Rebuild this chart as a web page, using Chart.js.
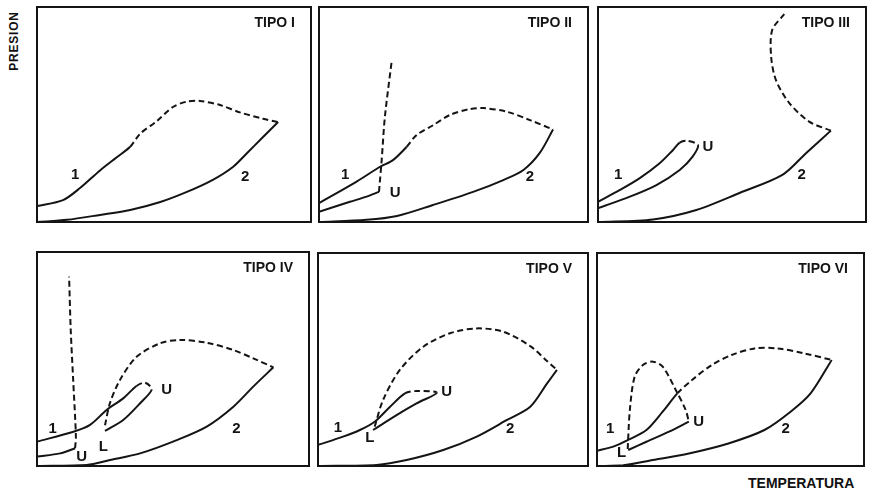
<!DOCTYPE html>
<html>
<head>
<meta charset="utf-8">
<script src="https://cdn.jsdelivr.net/npm/chart.js@4.4.0/dist/chart.umd.min.js"></script>
<style>
    body {
        margin: 0;
        width: 873px;
        height: 490px;
        background: #fff;
        position: relative;
        overflow: hidden;
        font-family: "Liberation Sans", Arial, sans-serif;
        color: #111;
    }
    .panel { position: absolute; }
    #presion {
        position: absolute;
        left: 14px;
        top: 41px;
        font-weight: bold;
        font-size: 12px;
        letter-spacing: 0.8px;
        transform: translate(-50%, -50%) rotate(-90deg);
        white-space: nowrap;
    }
    #temperatura {
        position: absolute;
        left: 748px;
        top: 475px;
        font-weight: bold;
        font-size: 14px;
        white-space: nowrap;
    }
</style>
</head>
<body>
<div id="presion">PRESION</div>
<div id="temperatura">TEMPERATURA</div>

<script>
// Curvas de cada tipo de diagrama P-T (x = temperatura, y = presión, escala 0-100)
const titulos = ["TIPO I", "TIPO II", "TIPO III", "TIPO IV", "TIPO V", "TIPO VI"];

// TIPO I
const tipo1Vapor1 = [[0, 7.4], [9.5, 10.2], [15.7, 15.8], [23, 24], [29, 30], [34, 35]];
const tipo1Critica = [[34, 35], [37.6, 41], [43.8, 47], [49.6, 53.5], [54.7, 56], [59.5, 56.3], [66.8, 54.4], [74, 51], [82.5, 48], [88, 46.5]];
const tipo1Vapor2 = [[0, 0], [11, 1], [23, 3.3], [34, 5.6], [45, 9.3], [54.7, 14], [64, 19.5], [71.5, 25.6], [76.6, 32], [82.5, 39.5], [88, 46.5]];
const tipo1Etiquetas = [["1", 13.9, 22], ["2", 76, 21]];

// TIPO II
const tipo2Vapor1 = [[0, 8.8], [14, 18.8], [22.7, 25.7], [27.5, 28.8], [32.6, 35]];
const tipo2Critica = [[32.6, 35], [36.3, 40.5], [42.4, 45], [48.7, 49.8], [56, 52.5], [61, 53], [69.8, 51.3], [78.4, 47.4], [87, 43]];
const tipo2Vapor2 = [[0, 0], [17.7, 1], [29, 2.8], [42.4, 7.9], [57.3, 14], [68.5, 19.5], [76, 24.2], [82, 32], [87, 43]];
const tipo2Trifasica = [[0, 4.8], [11.5, 9.4], [17.7, 11.8], [22.3, 14]];
const tipo2CriticaLL = [[22.3, 14], [23.3, 28.8], [24.5, 49], [27, 74.6]];
const tipo2Etiquetas = [["1", 9.7, 21.9], ["U", 28.3, 13.6], ["2", 78.4, 21]];

// TIPO III
const tipo3Vapor1 = [[0, 9.4], [8.2, 14.9], [15.6, 20.4], [23, 27.3], [28, 33.5], [30.5, 36.9]];
const tipo3CriticaCorta = [[30.5, 36.9], [33, 37.8], [37.3, 35.8]];
const tipo3Trifasica = [[37.3, 35.8], [35.3, 30.4], [30.5, 24.2], [21.8, 17.2], [11.9, 11.8], [0, 6.4]];
const tipo3Vapor2 = [[0, 0], [20.5, 1.2], [36.7, 5.6], [52.8, 13.5], [68.8, 21.9], [77.6, 32], [86.9, 42.5]];
const tipo3Critica = [[86.9, 42.5], [78.8, 46.7], [71.4, 55.3], [66.4, 66], [64.6, 77], [65, 89.3], [69.5, 96.7]];
const tipo3Etiquetas = [["1", 7.5, 21.9], ["U", 41, 35], ["2", 76, 21.9]];

// TIPO IV
const tipo4Vapor1 = [[0, 11.4], [13.4, 16], [19.5, 19.2], [25.6, 26.2], [31.7, 31.6], [36.6, 37.4]];
const tipo4CriticaCorta = [[36.6, 37.4], [39.7, 38.9], [42.2, 35.8]];
const tipo4Trifasica2 = [[42.2, 35.8], [37.9, 29.3], [31.7, 21.5], [25, 16.4]];
const tipo4Critica = [[25, 19], [26.8, 29.3], [30.5, 40.2], [36.6, 51], [45.2, 57.3], [52.6, 58.9], [62.4, 57.6], [72.2, 54.2], [79.5, 50.3], [86.9, 46.1]];
const tipo4Vapor2 = [[0, 0], [18.3, 0.5], [26.8, 2.8], [37.9, 5.9], [51.4, 12.1], [62.4, 18.4], [72.2, 27.7], [79.5, 37.1], [86.9, 46.1]];
const tipo4Trifasica1 = [[0, 4.4], [8.5, 5.9], [14, 8.3]];
const tipo4CriticaLL = [[14, 8.3], [14.3, 13.7], [13.3, 40.2], [12.4, 63.6], [11.8, 88.5]];
const tipo4Etiquetas = [["1", 5.8, 17.3], ["U", 16.4, 4.4], ["L", 24.4, 9], ["U", 47.7, 35.5], ["2", 73.3, 17.3]];

// TIPO V
const tipo5Vapor1 = [[0, 9.9], [9.3, 13.8], [15.5, 16.9], [21, 20.8], [26.6, 27.7], [32.2, 34.1]];
const tipo5CriticaCorta = [[32.2, 34.1], [36.5, 35.2], [44, 34.4]];
const tipo5Trifasica = [[44, 34.4], [36.5, 29.4], [29.1, 23.9], [20.4, 16.9]];
const tipo5Critica = [[21, 18.5], [24.1, 31], [30.3, 45.1], [39, 56], [48.9, 62.3], [58.8, 64.6], [68.7, 63], [78.6, 56.3], [84.8, 49.3], [88.5, 45.1]];
const tipo5Vapor2 = [[0, 0], [21.7, 0.5], [32.8, 2.8], [46.4, 7.5], [58.8, 13.8], [70, 21.6], [78.6, 27.8], [84.8, 38.7], [88.5, 45.1]];
const tipo5Etiquetas = [["1", 7.4, 17.7], ["L", 19.2, 13], ["U", 47.7, 34.9], ["2", 71.2, 17.4]];

// TIPO VI
const tipo6Vapor1 = [[0, 7.2], [6.1, 9.1], [11.1, 11.9], [18.5, 16.9], [24.6, 25.5], [30.1, 34.1]];
const tipo6Critica = [[30.1, 34.1], [35.6, 40.4], [43, 47.4], [50.4, 52.1], [59, 55.2], [67.6, 55.2], [77.5, 52.9], [87.9, 49.8]];
const tipo6Vapor2 = [[0, 0], [9.8, 0.3], [20.9, 2.8], [34.4, 5.9], [49.2, 10.6], [62.7, 16.9], [72.5, 25.5], [80, 34.1], [87.9, 49.8]];
const tipo6Trifasica = [[11.7, 7.5], [18.5, 11.4], [27, 16.1], [34.4, 20.8]];
const tipo6CriticaLL = [[11.5, 8], [12.3, 26.3], [14.1, 41.9], [17.2, 47.4], [20.9, 49], [24.6, 46.6], [29.5, 35.7], [33.2, 26.3], [34.4, 20.8]];
const tipo6Etiquetas = [["1", 4.9, 17.4], ["L", 9.2, 6], ["U", 38.1, 20.8], ["2", 70.7, 17.4]];

// cada curva se arma con tramos [puntos, a trazos]; los tramos unidos se suavizan juntos
const C = false, T = true;
const paneles = [
    {
        curvas: [[[tipo1Vapor1, C], [tipo1Critica, T]], [[tipo1Vapor2, C]]],
        etiquetas: tipo1Etiquetas,
    },
    {
        curvas: [[[tipo2Vapor1, C], [tipo2Critica, T]], [[tipo2Vapor2, C]], [[tipo2Trifasica, C]], [[tipo2CriticaLL, T]]],
        etiquetas: tipo2Etiquetas,
    },
    {
        curvas: [[[tipo3Vapor1, C], [tipo3CriticaCorta, T], [tipo3Trifasica, C]], [[tipo3Vapor2, C]], [[tipo3Critica, T]]],
        etiquetas: tipo3Etiquetas,
    },
    {
        curvas: [[[tipo4Vapor1, C], [tipo4CriticaCorta, T], [tipo4Trifasica2, C]], [[tipo4Critica, T]], [[tipo4Vapor2, C]], [[tipo4Trifasica1, C]], [[tipo4CriticaLL, T]]],
        etiquetas: tipo4Etiquetas,
    },
    {
        curvas: [[[tipo5Vapor1, C], [tipo5CriticaCorta, T], [tipo5Trifasica, C]], [[tipo5Critica, T]], [[tipo5Vapor2, C]]],
        etiquetas: tipo5Etiquetas,
    },
    {
        curvas: [[[tipo6Vapor1, C], [tipo6Critica, T]], [[tipo6Vapor2, C]], [[tipo6Trifasica, C]], [[tipo6CriticaLL, T]]],
        etiquetas: tipo6Etiquetas,
    },
];

// posición de cada recuadro en la página
const marcos = [
    { x: 37, y: 7, w: 274, h: 215 },
    { x: 319, y: 7, w: 269, h: 215 },
    { x: 598, y: 7, w: 268, h: 215 },
    { x: 37, y: 252, w: 272, h: 214 },
    { x: 318, y: 253, w: 270, h: 213 },
    { x: 597, y: 253, w: 267, h: 213 },
];

const tinta = "#141414";
const trazo = [6, 3.5];

// dibuja el recuadro, el título y las etiquetas de las curvas
const marcoYTextos = {
    id: "marcoYTextos",
    afterDatasetsDraw(chart, args, opts) {
        const { ctx, chartArea: a, scales } = chart;
        ctx.save();
        ctx.strokeStyle = tinta;
        ctx.lineWidth = 2;
        ctx.strokeRect(a.left, a.top, a.width, a.height);
        ctx.fillStyle = tinta;
        ctx.font = 'bold 14px "Liberation Sans", Arial, sans-serif';
        ctx.textAlign = "right";
        ctx.textBaseline = "middle";
        ctx.fillText(opts.titulo, a.right - 16, a.top + 16);
        ctx.font = 'bold 15px "Liberation Sans", Arial, sans-serif';
        ctx.textAlign = "center";
        opts.etiquetas.forEach(([t, vx, vy]) => {
            ctx.fillText(t, scales.x.getPixelForValue(vx), scales.y.getPixelForValue(vy));
        });
        ctx.restore();
    },
};

// une los tramos de una curva y anota qué segmentos van a trazos
function serie(tramos) {
    const data = [];
    const discontinuo = [];
    tramos.forEach(([puntos, aTrazos], k) => {
        puntos.forEach(([x, y], j) => {
            if (k > 0 && j === 0) return; // punto compartido con el tramo anterior
            if (data.length > 0) discontinuo.push(aTrazos);
            data.push({ x, y });
        });
    });
    return {
        data,
        showLine: true,
        borderColor: tinta,
        borderWidth: 2,
        pointRadius: 0,
        tension: 0.3,
        fill: false,
        segment: {
            borderDash: (ctx) => (discontinuo[ctx.p0DataIndex] ? trazo : []),
        },
    };
}

paneles.forEach((p, i) => {
    const m = marcos[i];
    const div = document.createElement("div");
    div.className = "panel";
    div.style.left = (m.x - 2) + "px";
    div.style.top = (m.y - 2) + "px";
    const canvas = document.createElement("canvas");
    canvas.width = m.w + 4;
    canvas.height = m.h + 4;
    div.appendChild(canvas);
    document.body.appendChild(div);

    new Chart(canvas, {
        type: "scatter",
        data: { datasets: p.curvas.map(serie) },
        options: {
            responsive: false,
            animation: false,
            devicePixelRatio: 1,
            layout: { padding: 2 },
            plugins: {
                legend: { display: false },
                tooltip: { enabled: false },
                marcoYTextos: { titulo: titulos[i], etiquetas: p.etiquetas },
            },
            scales: {
                x: { type: "linear", min: 0, max: 100, display: false },
                y: { type: "linear", min: 0, max: 100, display: false },
            },
        },
        plugins: [marcoYTextos],
    });
});
</script>
</body>
</html>
